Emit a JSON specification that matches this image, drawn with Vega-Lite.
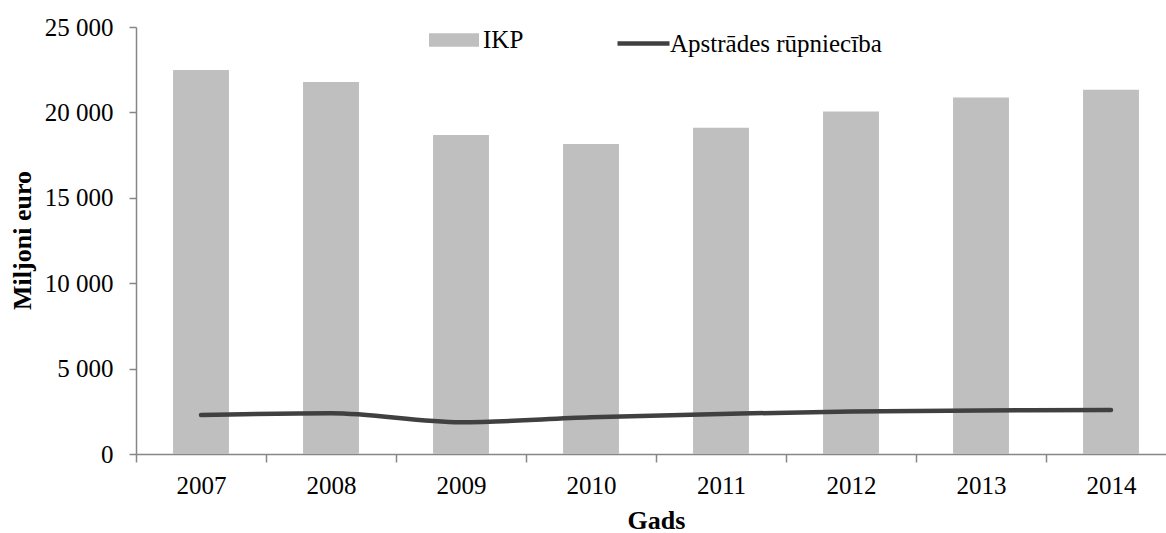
{
  "$schema": "https://vega.github.io/schema/vega-lite/v6.json",
  "autosize": "none",
  "width": 1030,
  "height": 427,
  "padding": {"left": 136, "top": 27, "right": 0, "bottom": 79},
  "background": "white",
  "data": {
    "values": [
      {"year": "2007", "IKP": 22480, "Apstrades": 2283},
      {"year": "2008", "IKP": 21780, "Apstrades": 2380},
      {"year": "2009", "IKP": 18680, "Apstrades": 1856},
      {"year": "2010", "IKP": 18150, "Apstrades": 2148},
      {"year": "2011", "IKP": 19100, "Apstrades": 2342},
      {"year": "2012", "IKP": 20050, "Apstrades": 2494},
      {"year": "2013", "IKP": 20870, "Apstrades": 2547},
      {"year": "2014", "IKP": 21330, "Apstrades": 2570}
    ]
  },
  "config": {
    "view": {"stroke": null},
    "font": "Liberation Serif",
    "axis": {
      "grid": false,
      "domainColor": "#868686",
      "domainWidth": 1.5,
      "tickColor": "#868686",
      "tickWidth": 1.5,
      "labelFont": "Liberation Serif",
      "labelFontSize": 25,
      "labelColor": "#000000",
      "titleFont": "Liberation Serif",
      "titleFontSize": 26,
      "titleFontWeight": "bold",
      "titleColor": "#000000"
    },
    "legend": {
      "labelFont": "Liberation Serif",
      "labelFontSize": 25,
      "labelColor": "#000000",
      "labelLimit": 0,
      "padding": 0
    }
  },
  "encoding": {
    "x": {
      "field": "year",
      "type": "ordinal",
      "scale": {"range": [0, 1040], "paddingInner": 0, "paddingOuter": 0},
      "axis": {
        "title": "Gads",
        "labelAngle": 0,
        "tickBand": "extent",
        "tickSize": 8,
        "labelPadding": 31,
        "labelBaseline": "alphabetic",
        "titleX": 520,
        "titleY": 79,
        "titleBaseline": "bottom",
        "titleAlign": "center"
      }
    }
  },
  "layer": [
    {
      "mark": {"type": "bar", "width": {"band": 0.43}},
      "encoding": {
        "y": {
          "field": "IKP",
          "type": "quantitative",
          "scale": {"domain": [0, 25000], "nice": false},
          "axis": {
            "title": "Miljoni euro",
            "values": [0, 5000, 10000, 15000, 20000, 25000],
            "labelExpr": "replace(format(datum.value, ',d'), ',', ' ')",
            "tickSize": 7,
            "labelPadding": 16,
            "titleX": -114,
            "titleY": 213,
            "titleAngle": -90,
            "titleAlign": "center",
            "titleBaseline": "middle"
          }
        },
        "fill": {
          "datum": "IKP",
          "type": "nominal",
          "scale": {"range": ["#bfbfbf"]},
          "legend": {
            "title": null,
            "orient": "none",
            "legendX": 293,
            "legendY": -12,
            "symbolType": "M-1,-0.27L1,-0.27L1,0.27L-1,0.27Z",
            "symbolSize": 2500,
            "symbolStrokeWidth": 0,
            "labelOffset": 4
          }
        }
      }
    },
    {
      "mark": {"type": "line", "interpolate": "monotone", "strokeWidth": 4.5, "strokeCap": "round"},
      "encoding": {
        "y": {"field": "Apstrades", "type": "quantitative"},
        "stroke": {
          "datum": "Apstrādes rūpniecība",
          "type": "nominal",
          "scale": {"range": ["#404040"]},
          "legend": {
            "title": null,
            "orient": "none",
            "legendX": 479,
            "legendY": -12,
            "symbolType": "stroke",
            "symbolSize": 2704,
            "symbolStrokeWidth": 4.5,
            "labelOffset": -2
          }
        }
      }
    }
  ]
}
